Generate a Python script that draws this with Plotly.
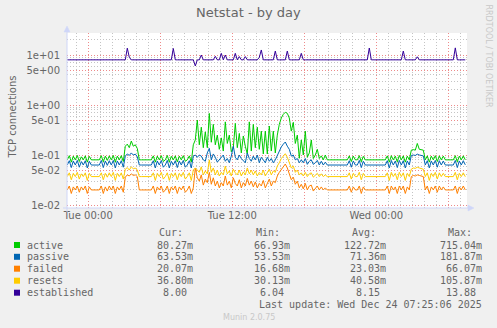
import plotly.graph_objects as go
import pandas as pd

# ---------------- data ----------------
# sample times: every 10 minutes from Mon 22:15 to Wed 07:25
start_time = "2025-12-22 22:15"
n_samples = 200

# values in milli-connections
active_m = [
    80, 97, 72, 95, 80, 98, 74, 92, 80, 96,
    72, 94, 80, 80, 80, 80, 80, 97, 73, 95,
    78, 96, 80, 98, 72, 95, 80, 97, 74, 150,
    165, 140, 190, 150, 160, 135, 80, 80, 80, 80,
    80, 80, 80, 96, 72, 95, 80, 97, 74, 80,
    98, 72, 94, 80, 96, 73, 95, 80, 97, 75,
    80, 96, 72, 160, 200, 500, 160, 360, 140, 290,
    140, 680, 180, 410, 160, 250, 130, 220, 120, 460,
    170, 250, 116, 140, 430, 140, 270, 110, 240, 150,
    105, 460, 120, 410, 140, 360, 130, 300, 105, 300,
    105, 380, 120, 300, 110, 250, 410, 550, 650, 715,
    680, 550, 300, 450, 170, 250, 86, 200, 100, 300,
    90, 110, 200, 85, 100, 130, 85, 96, 80, 100,
    80, 80, 80, 80, 80, 80, 80, 80, 80, 80,
    80, 96, 74, 95, 80, 80, 97, 73, 94, 80,
    80, 80, 80, 80, 80, 80, 80, 80, 80, 80,
    96, 72, 97, 80, 95, 73, 98, 80, 96, 72,
    95, 80, 125, 128, 125, 170, 130, 128, 125, 80,
    96, 72, 95, 80, 97, 74, 96, 80, 95, 80,
    80, 80, 80, 80, 97, 73, 95, 80, 96, 80,
]
passive_m = [
    63, 77, 56, 76, 63, 78, 57, 74, 63, 77,
    55, 75, 63, 63, 63, 63, 63, 78, 56, 76,
    62, 77, 63, 78, 55, 76, 63, 77, 57, 95,
    105, 98, 110, 100, 104, 92, 63, 63, 63, 63,
    63, 63, 63, 77, 55, 76, 63, 78, 57, 63,
    78, 55, 75, 63, 77, 56, 76, 63, 78, 57,
    63, 77, 55, 95, 100, 90, 100, 95, 80, 75,
    110, 136, 80, 105, 90, 72, 80, 90, 100, 75,
    85, 70, 95, 150, 90, 80, 100, 85, 75, 70,
    110, 85, 75, 95, 80, 100, 70, 90, 80, 70,
    90, 75, 85, 70, 80, 100, 120, 145, 165, 182,
    150, 130, 95, 100, 80, 85, 70, 80, 70, 85,
    65, 75, 80, 65, 70, 78, 63, 75, 63, 72,
    63, 63, 63, 63, 63, 63, 63, 63, 63, 63,
    63, 77, 57, 76, 63, 63, 78, 56, 75, 63,
    63, 63, 63, 63, 63, 63, 63, 63, 63, 63,
    77, 55, 78, 63, 76, 56, 78, 63, 77, 55,
    76, 63, 98, 100, 98, 104, 100, 98, 96, 63,
    77, 55, 76, 63, 78, 57, 77, 63, 76, 63,
    63, 63, 63, 63, 78, 56, 76, 63, 77, 63.5,
]
failed_m = [
    20, 24, 17, 23, 20, 24, 18, 23, 20, 24,
    17, 23, 20, 20, 20, 20, 20, 24, 17, 23,
    19, 24, 20, 24, 17, 23, 20, 24, 18, 36,
    40, 38, 42, 39, 40, 37, 20, 20, 20, 20,
    20, 20, 20, 24, 17, 23, 20, 24, 18, 20,
    24, 17, 23, 20, 24, 17, 23, 20, 24, 18,
    20, 24, 17, 22, 55, 35, 30, 40, 25, 33,
    28, 45, 26, 35, 24, 30, 22, 28, 24, 38,
    25, 30, 22, 35, 27, 24, 32, 22, 28, 24,
    34, 25, 30, 23, 29, 22, 27, 24, 31, 22,
    27, 33, 24, 30, 28, 38, 45, 52, 60, 66,
    55, 42, 32, 36, 26, 30, 22, 26, 21, 27,
    20, 24, 25, 19, 22, 24, 20, 23, 20, 22,
    20, 20, 20, 20, 20, 20, 20, 20, 20, 20,
    20, 24, 18, 23, 20, 20, 24, 17, 23, 20,
    20, 20, 20, 20, 20, 20, 20, 20, 20, 20,
    24, 17, 24, 20, 23, 17, 24, 20, 24, 17,
    23, 20, 37, 39, 38, 40, 39, 38, 37, 20,
    24, 17, 23, 20, 24, 18, 24, 20, 23, 20,
    20, 20, 20, 20, 24, 17, 23, 20, 24, 20,
]
resets_m = [
    37, 44, 32, 43, 37, 45, 33, 42, 37, 44,
    31, 43, 37, 37, 37, 37, 37, 44, 32, 43,
    36, 44, 37, 45, 31, 43, 37, 44, 33, 52,
    56, 50, 58, 53, 55, 50, 37, 37, 37, 37,
    37, 37, 37, 44, 31, 43, 37, 45, 33, 37,
    44, 31, 43, 37, 44, 32, 43, 37, 45, 33,
    37, 44, 31, 50, 55, 50, 45, 58, 40, 48,
    42, 80, 45, 55, 40, 50, 38, 45, 40, 60,
    42, 48, 38, 52, 44, 40, 50, 38, 46, 40,
    55, 42, 50, 40, 48, 38, 45, 40, 50, 38,
    44, 52, 40, 48, 45, 60, 70, 85, 95, 106,
    90, 70, 55, 60, 45, 50, 40, 44, 38, 45,
    37, 42, 44, 36, 40, 43, 37, 42, 37, 40,
    37, 37, 37, 37, 37, 37, 37, 37, 37, 37,
    37, 44, 33, 43, 37, 37, 45, 32, 43, 37,
    37, 37, 37, 37, 37, 37, 37, 37, 37, 37,
    44, 31, 45, 37, 43, 32, 45, 37, 44, 31,
    43, 37, 52, 55, 54, 57, 55, 54, 52, 37,
    44, 31, 43, 37, 45, 33, 44, 37, 43, 37,
    37, 37, 37, 37, 45, 32, 43, 37, 44, 36.8,
]
established = [
    8, 8, 8, 8, 8, 8, 8, 8, 8, 8, 8, 8, 8, 8, 8, 8, 8, 8, 8, 8,
    8, 8, 8, 8, 8, 8, 8, 8, 8, 8, 13.7, 9.0, 8, 8, 8, 8, 8, 8, 8, 8,
    8, 8, 8, 8, 8, 8, 8, 8, 8, 8, 8, 8, 8, 13.5, 8, 8, 8, 8, 8, 8,
    8, 8, 8, 8, 6.04, 8, 8, 10.0, 8, 8, 8, 8, 8, 8, 9.4, 8, 8, 10.8, 8, 10.0,
    8, 8, 8, 8, 10.8, 8, 9.3, 8, 8, 9.3, 8, 8, 8, 8, 8, 8, 9.0, 12.6, 8, 8,
    8, 8, 8, 8, 12.0, 8, 8, 8, 8, 8, 12.0, 8, 8, 8, 8, 8, 8, 10.8, 8, 8,
    8, 8, 8, 8, 8, 8, 8, 8, 8, 8, 8, 8, 8, 8, 8, 8, 8, 8, 8, 8,
    8, 8, 8, 8, 8, 8, 8, 8, 8, 8, 8, 13.8, 8, 8, 8, 8, 8, 8, 8, 8,
    8, 8, 8, 8, 8, 8, 8, 8, 12.0, 8, 8, 8, 8, 8, 8, 9.2, 8, 8, 8, 8,
    8, 8, 8, 8, 8, 8, 8, 8, 8, 8, 8, 8, 8, 8, 13.88, 8, 8, 8, 8, 8,
]

series_names = ["active", "passive", "failed", "resets", "established"]
series_colors = ["#00CC00", "#0066B3", "#FF8000", "#FFCC00", "#330099"]
cur_text = ["80.27m", "63.53m", "20.07m", "36.80m", "8.00\u00a0"]
min_text = ["66.93m", "53.53m", "16.68m", "30.13m", "6.04\u00a0"]
avg_text = ["122.72m", "71.36m", "23.03m", "40.58m", "8.15\u00a0"]
max_text = ["715.04m", "181.87m", "66.07m", "105.87m", "13.88\u00a0"]

y_tick_vals = [0.01, 0.05, 0.1, 0.5, 1, 5, 10]
y_tick_text = ["1e-02", "5e-02", "1e-01", "5e-01", "1e+00", "5e+00", "1e+01"]
x_tick_vals = ["2025-12-23 00:00", "2025-12-23 06:00", "2025-12-23 12:00",
               "2025-12-23 18:00", "2025-12-24 00:00", "2025-12-24 06:00"]
x_tick_text = ["Tue 00:00", "", "Tue 12:00", "", "Wed 00:00", ""]

# ---------------- figure ----------------
W, H = 497, 328
L, T, PW, PH = 67, 33, 400, 175
FONT = "DejaVu Sans"
MONO = "DejaVu Sans Mono"
TXT = "#666666"
AXISC = "#CFD6F8"
MAJ = "#EE8A8A"
MIN = "#C4C4C4"
DASH = "1px,2px"


def px(x):
    return (x - L) / PW


def py(y):
    return (T + PH - y) / PH


times = pd.date_range(start_time, periods=n_samples, freq="10min")
values = [
    [v / 1000 for v in active_m],
    [v / 1000 for v in passive_m],
    [v / 1000 for v in failed_m],
    [v / 1000 for v in resets_m],
    established,
]

fig = go.Figure()
for name, col, vals in zip(series_names, series_colors, values):
    fig.add_trace(go.Scatter(x=times, y=vals, mode="lines", name=name,
                             line=dict(color=col, width=1), hoverinfo="skip"))

minor_y = []
for e in range(-3, 2):
    for k in (2, 3, 4, 6, 7, 8, 9):
        v = k * 10 ** e
        if 10 ** -2.06 < v < 10 ** 1.44:
            minor_y.append(v)

fig.update_layout(
    width=W, height=H,
    margin=dict(l=L, r=W - L - PW, t=T, b=H - T - PH, pad=0),
    paper_bgcolor="#F0F0F0", plot_bgcolor="#FFFFFF",
    showlegend=False, hovermode=False,
    xaxis=dict(
        type="date",
        range=["2025-12-22 22:13:30", "2025-12-24 07:33:30"],
        tickmode="array", tickvals=x_tick_vals, ticktext=x_tick_text,
        showgrid=True, gridcolor=MAJ, griddash=DASH, gridwidth=1,
        minor=dict(dtick=3600000, tick0="2025-12-23 00:00", showgrid=True,
                   gridcolor=MIN, griddash=DASH, gridwidth=1),
        showline=False, zeroline=False, ticks="",
        tickfont=dict(family=FONT, size=10, color=TXT),
        fixedrange=True,
    ),
    yaxis=dict(
        type="log", range=[-2.06, 1.44],
        tickmode="array", tickvals=y_tick_vals, ticktext=y_tick_text,
        showgrid=True, gridcolor=MAJ, griddash=DASH, gridwidth=1,
        minor=dict(tickmode="array", tickvals=minor_y, showgrid=True,
                   gridcolor=MIN, griddash=DASH, gridwidth=1),
        showline=False, zeroline=False, ticks="",
        ticklabelstandoff=6,
        tickfont=dict(family=FONT, size=10, color=TXT),
        fixedrange=True,
    ),
)

shapes = []
# axis lines and arrows
shapes.append(dict(type="line", xref="paper", yref="paper", x0=px(63), x1=px(469),
                   y0=py(208), y1=py(208), line=dict(color=AXISC, width=1)))
shapes.append(dict(type="line", xref="paper", yref="paper", x0=px(67), x1=px(67),
                   y0=py(212), y1=py(30), line=dict(color=AXISC, width=1)))
shapes.append(dict(type="path", xref="paper", yref="paper",
                   path=f"M {px(468)} {py(205)} L {px(474)} {py(208)} L {px(468)} {py(211)} Z",
                   fillcolor=AXISC, line=dict(color=AXISC, width=0.5)))
shapes.append(dict(type="path", xref="paper", yref="paper",
                   path=f"M {px(64)} {py(32)} L {px(67)} {py(26)} L {px(70)} {py(32)} Z",
                   fillcolor=AXISC, line=dict(color=AXISC, width=0.5)))

ann = []
ann.append(dict(text="Netstat - by day", x=px(248.5), y=py(13), xref="paper", yref="paper",
                showarrow=False, xanchor="center", yanchor="middle",
                font=dict(family=FONT, size=13, color=TXT)))
ann.append(dict(text="TCP connections", x=px(11.5), y=py(117), xref="paper", yref="paper",
                showarrow=False, xanchor="center", yanchor="middle", textangle=-90,
                font=dict(family=FONT, size=10, color=TXT)))
ann.append(dict(text="RRDTOOL / TOBI OETIKER", x=px(488.5), y=py(56), xref="paper",
                yref="paper", showarrow=False, xanchor="center", yanchor="middle",
                textangle=90, font=dict(family=FONT, size=8, color="#C8C8C8")))
ann.append(dict(text="Munin 2.0.75", x=px(248.5), y=py(317), xref="paper", yref="paper",
                showarrow=False, xanchor="center", yanchor="middle",
                font=dict(family=FONT, size=8, color="#C8C8C8")))

header_y = 232.7
col_right = [194.3, 291.0, 386.7, 482.7]
headers = ["Cur:", "Min:", "Avg:", "Max:"]
for hx, htxt in zip(col_right, headers):
    ann.append(dict(text=htxt, x=px(hx - 36.1), y=py(header_y), xref="paper", yref="paper",
                    showarrow=False, xanchor="left", yanchor="middle",
                    font=dict(family=MONO, size=10, color=TXT)))

row_y = [245.0, 256.8, 268.7, 280.7, 292.7]
for i, name in enumerate(series_names):
    yy = row_y[i]
    shapes.append(dict(type="rect", xref="paper", yref="paper",
                       x0=px(14), x1=px(20), y0=py(yy - 3), y1=py(yy + 3),
                       fillcolor=series_colors[i], line=dict(width=0)))
    ann.append(dict(text=name, x=px(26.2), y=py(yy), xref="paper", yref="paper",
                    showarrow=False, xanchor="left", yanchor="middle",
                    font=dict(family=MONO, size=10, color=TXT)))
    for cx, col in zip(col_right, [cur_text, min_text, avg_text, max_text]):
        ann.append(dict(text=col[i], x=px(cx), y=py(yy), xref="paper", yref="paper",
                        showarrow=False, xanchor="right", yanchor="middle",
                        font=dict(family=MONO, size=10, color=TXT)))

ann.append(dict(text="Last update: Wed Dec 24 07:25:06 2025", x=px(482.7), y=py(304.7),
                xref="paper", yref="paper", showarrow=False, xanchor="right",
                yanchor="middle", font=dict(family=MONO, size=10, color=TXT)))

for a in ann:
    a["borderpad"] = 0
fig.update_layout(shapes=shapes, annotations=ann)

fig.write_html("out.html", config={"displayModeBar": False, "staticPlot": True})
